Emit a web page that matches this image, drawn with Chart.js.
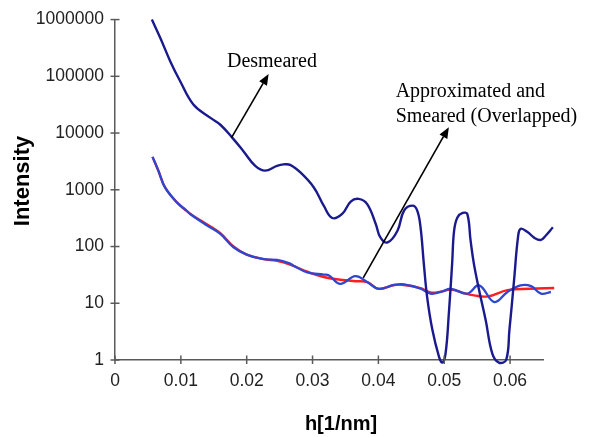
<!DOCTYPE html>
<html><head><meta charset="utf-8">
<script src="https://cdn.jsdelivr.net/npm/chart.js@4/dist/chart.umd.min.js"></script>
<style>html,body{margin:0;padding:0;background:#fff}#wrap{width:593px;height:437px}</style>
</head><body><div id="wrap"><canvas id="c" width="593" height="437"></canvas></div>
<script>
const xTicks = [0, 0.01, 0.02, 0.03, 0.04, 0.05, 0.06];
const yTicks = [1, 10, 100, 1000, 10000, 100000, 1000000];

const desmearedX = [0.0056,0.0069,0.0084,0.0099,0.0119,0.0145,0.0160,0.0178,0.0195,0.0213,0.0228,0.0246,0.0256,0.0266,0.0282,0.0302,0.0317,0.0330,0.0345,0.0358,0.0370,0.0383,0.0396,0.0403,0.0414,0.0429,0.0439,0.0452,0.0459,0.0464,0.0469,0.0474,0.0482,0.0492,0.0497,0.0502,0.0507,0.0512,0.0515,0.0520,0.0528,0.0535,0.0540,0.0545,0.0553,0.0563,0.0573,0.0583,0.0594,0.0599,0.0606,0.0612,0.0616,0.0627,0.0637,0.0647,0.0654,0.0665];
const desmearedY = [1000000,470000,183000,82000,32000,18500,14000,8300,4800,2640,2180,2640,2800,2750,2000,1100,525,318,375,620,690,560,250,145,118,190,430,525,430,220,50,13,3.4,1.15,0.9,1.3,6.6,50,190,325,390,375,128,50,17,5,1.3,0.9,1.0,3.4,25,145,205,178,142,131,155,218];

const approxX = [0.0057,0.0066,0.0076,0.0094,0.0109,0.0114,0.0140,0.0160,0.0180,0.0200,0.0226,0.0246,0.0266,0.0271,0.0292,0.0317,0.0325,0.0342,0.0365,0.0383,0.0400,0.0424,0.0439,0.0464,0.0479,0.0495,0.0510,0.0535,0.0553,0.0576,0.0596,0.0616,0.0632,0.0647,0.0662];
const approxY = [3800,2150,1100,600,427,375,234,167,97,72,60,58,50,46,35,32,31,22,30,23.6,18,21,21.5,18,14.8,15.8,18,14.8,20.7,10.5,15.8,20.7,20,14.8,15.8];

const smearedX = [0.0057,0.0066,0.0076,0.0094,0.0114,0.0140,0.0160,0.0180,0.0200,0.0226,0.0246,0.0266,0.0292,0.0317,0.0342,0.0365,0.0383,0.0400,0.0424,0.0439,0.0464,0.0479,0.0495,0.0510,0.0530,0.0545,0.0566,0.0596,0.0630,0.0667];
const smearedY = [3800,2150,1100,600,380,245,172,100,72,60,56,48,36,29,26,24.5,23.6,18,21,21,18.5,15.5,16,17.5,15,13.8,13.2,17,18,18.6];

const pts = (xs, ys) => xs.map((x, i) => ({x: x, y: ys[i]}));

const axisColor = '#5a5a5a';
const xTickFont = {family: 'Liberation Sans, Arial, sans-serif', size: 17.5};
const yTickFont = {family: 'Liberation Sans, Arial, sans-serif', size: 17.5, lineHeight: 0.98};

const annotations = {
  desmeared: {text: 'Desmeared', tx: 0.0170, ty: 145600, tail: [0.0177, 8300], head: [0.02333, 110000]},
  overlapped: {lines: ['Approximated and', 'Smeared (Overlapped)'], tx: 0.04262, ty: 43350, tail: [0.0377, 28], head: [0.0507, 12700]}
};

function arrow(ctx, x1, y1, x2, y2) {
  const ang = Math.atan2(y2 - y1, x2 - x1), L = 11, W = 4.5;
  const bx = x2 - L * Math.cos(ang), by = y2 - L * Math.sin(ang);
  ctx.beginPath(); ctx.moveTo(x1, y1); ctx.lineTo(bx, by); ctx.stroke();
  ctx.beginPath(); ctx.moveTo(x2, y2);
  ctx.lineTo(bx + W * Math.sin(ang), by - W * Math.cos(ang));
  ctx.lineTo(bx - W * Math.sin(ang), by + W * Math.cos(ang));
  ctx.closePath(); ctx.fill();
}

const decor = {
  id: 'decor',
  afterDraw(chart) {
    const ctx = chart.ctx, xs = chart.scales.x, ys = chart.scales.y, a = chart.chartArea;
    ctx.save();
    ctx.strokeStyle = axisColor; ctx.lineWidth = 1.5;
    yTicks.forEach(v => { const p = ys.getPixelForValue(v); ctx.beginPath(); ctx.moveTo(a.left - 4.5, p); ctx.lineTo(a.left + 4.5, p); ctx.stroke(); });
    xTicks.forEach(v => { const p = xs.getPixelForValue(v); ctx.beginPath(); ctx.moveTo(p, a.bottom - 4.5); ctx.lineTo(p, a.bottom + 4); ctx.stroke(); });
    ctx.fillStyle = '#000';
    ctx.font = 'bold 22px "Liberation Sans", Arial, sans-serif';
    ctx.textAlign = 'center'; ctx.textBaseline = 'middle';
    ctx.save(); ctx.translate(23, 181); ctx.rotate(-Math.PI / 2); ctx.fillText('Intensity', 0, 0); ctx.restore();
    ctx.font = 'bold 20px "Liberation Sans", Arial, sans-serif';
    ctx.fillText('h[1/nm]', 341, 424);
    ctx.font = '20px "Liberation Serif", "Times New Roman", serif';
    ctx.textAlign = 'left'; ctx.textBaseline = 'alphabetic';
    const d = annotations.desmeared;
    ctx.fillText(d.text, xs.getPixelForValue(d.tx), ys.getPixelForValue(d.ty));
    const o = annotations.overlapped;
    o.lines.forEach((t, i) => ctx.fillText(t, xs.getPixelForValue(o.tx), ys.getPixelForValue(o.ty) + i * 25));
    ctx.strokeStyle = '#000'; ctx.fillStyle = '#000'; ctx.lineWidth = 1.6;
    [d, o].forEach(n => arrow(ctx, xs.getPixelForValue(n.tail[0]), ys.getPixelForValue(n.tail[1]), xs.getPixelForValue(n.head[0]), ys.getPixelForValue(n.head[1])));
    ctx.restore();
  }
};

new Chart(document.getElementById('c'), {
  type: 'line',
  data: {
    datasets: [
      {label: 'Desmeared', data: pts(desmearedX, desmearedY), borderColor: '#1a1a8e', borderWidth: 2.4, clip: false},
      {label: 'Approximated', data: pts(approxX, approxY), borderColor: '#2e46d2', borderWidth: 2.3, clip: false},
      {label: 'Smeared', data: pts(smearedX, smearedY), borderColor: '#ff1e1e', borderWidth: 2.4, clip: false}
    ]
  },
  options: {
    responsive: false, animation: false, devicePixelRatio: 1,
    layout: {padding: {top: 0, right: 50, bottom: 0, left: 0}},
    plugins: {legend: {display: false}, tooltip: {enabled: false}},
    elements: {point: {radius: 0}, line: {tension: 0.4, fill: false}},
    scales: {
      x: {
        type: 'linear', bounds: 'data',
        afterDataLimits(s) { s.min = 0; s.max = 0.065; },
        afterBuildTicks(s) { s.ticks = xTicks.map(v => ({value: v})); },
        afterFit(s) { s.height = 77; },
        grid: {display: false, drawTicks: false},
        border: {display: true, color: axisColor, width: 1.5},
        ticks: {padding: 11, font: xTickFont, color: '#222', maxRotation: 0, autoSkip: false, callback: v => String(v)}
      },
      y: {
        type: 'logarithmic', min: 1, max: 1000000, bounds: 'data',
        afterBuildTicks(s) { s.ticks = yTicks.map(v => ({value: v})); },
        afterFit(s) { s.width = 115; },
        grid: {display: false, drawTicks: false},
        border: {display: true, color: axisColor, width: 1.5},
        ticks: {padding: 11, font: yTickFont, color: '#222', autoSkip: false, callback: v => String(v)}
      }
    }
  },
  plugins: [decor]
});
</script>
</body></html>
